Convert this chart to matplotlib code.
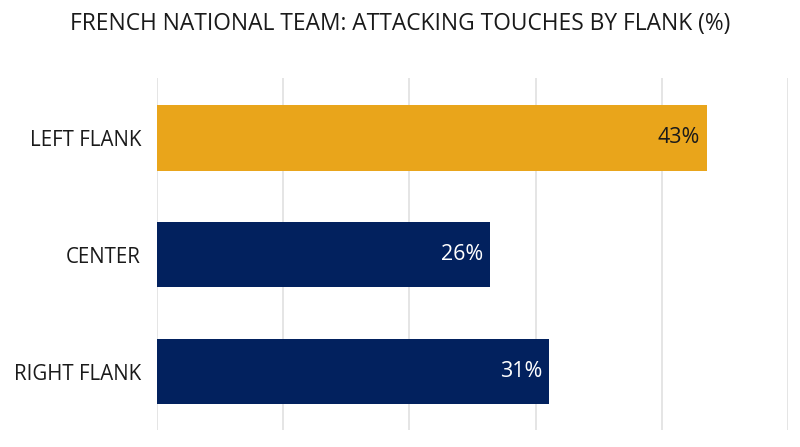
import matplotlib
matplotlib.use("Agg")
import matplotlib.pyplot as plt

categories = ["LEFT FLANK", "CENTER", "RIGHT FLANK"]
values = [43.6, 26.4, 31.1]
value_labels = ["43%", "26%", "31%"]
colors = ["#E9A51B", "#02215E", "#02215E"]
label_colors = ["#1a1a1a", "#ffffff", "#ffffff"]
xticks = [0, 10, 20, 30, 40, 50]
title = "FRENCH NATIONAL TEAM: ATTACKING TOUCHES BY FLANK (%)"

plt.rcParams['font.family'] = ['Open Sans', 'DejaVu Sans']

fig = plt.figure(figsize=(8, 4.47), dpi=100)
ax = fig.add_axes([157/800, 1 - 430/447, 631/800, 352/447])

y = list(range(len(categories)))
ax.barh(y, values, height=0.562, color=colors, zorder=2)
for yi, v, lab, c in zip(y, values, value_labels, label_colors):
    ax.text(v - 0.55, yi, lab, ha="right", va="center", color=c, fontsize=15.5, zorder=3)

ax.set_xlim(0, 50)
ax.set_ylim(2.5, -0.51)
ax.set_xticks(xticks)
ax.set_xticklabels([])
ax.set_yticks(y)
ax.set_yticklabels(categories, fontsize=14.8, color="#1a1a1a")
ax.tick_params(axis="both", length=0)
ax.tick_params(axis="y", pad=11.5)
ax.xaxis.grid(True, color="#e3e3e3", linewidth=1.3, zorder=0)
ax.set_axisbelow(True)
for s in ax.spines.values():
    s.set_visible(False)

fig.text(0.5, 1 - 24/447, title, ha="center", va="center", fontsize=16.4, color="#1a1a1a")

fig.savefig("out.png", dpi=100)
